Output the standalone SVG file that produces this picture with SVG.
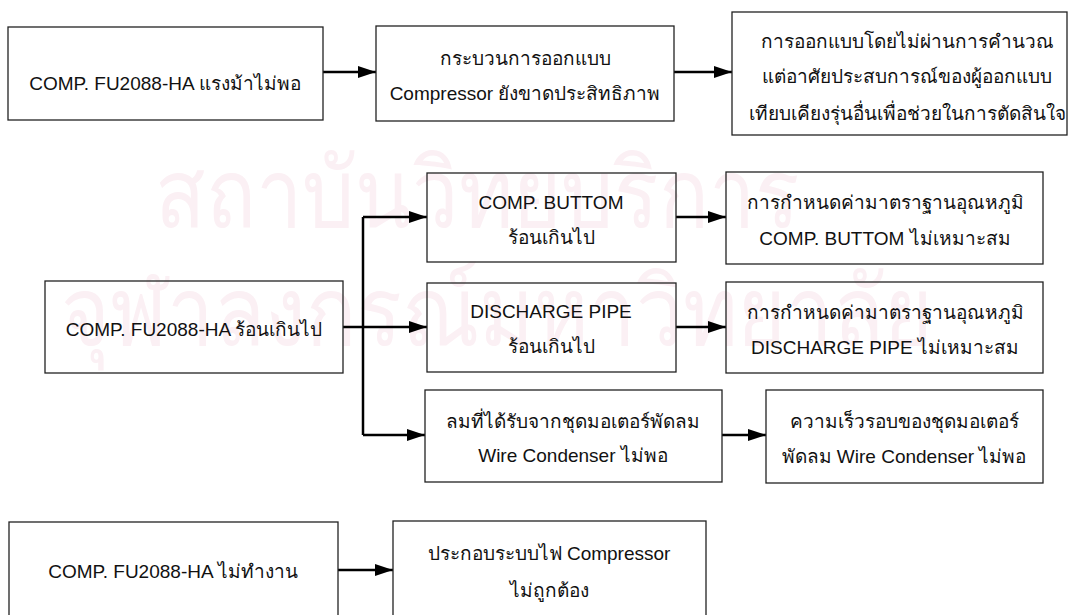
<svg xmlns="http://www.w3.org/2000/svg" width="1068" height="615" viewBox="0 0 1068 615">
<style>
.box{fill:none;stroke:#222;stroke-width:1.3}
.t{font-family:"Liberation Sans","Noto Sans","DejaVu Sans",sans-serif;font-size:19px;fill:#111;text-anchor:middle}
.wm{font-family:"Noto Sans","DejaVu Sans",sans-serif;font-size:96px;fill:#fbf0f4}
.c{fill:none;stroke:#000;stroke-width:2.5}
</style>
<defs>
<marker id="ah" viewBox="0 0 18 12" refX="18" refY="6" markerWidth="18" markerHeight="12" markerUnits="userSpaceOnUse" orient="auto">
<path d="M0,0 L18,6 L0,12 Z" fill="#000"/>
</marker>
</defs>
<rect width="1068" height="615" fill="#fff"/>
<g id="watermark">
<text class="wm" x="155" y="227" textLength="645" lengthAdjust="spacingAndGlyphs">สถาบันวิทยบริการ</text>
<text class="wm" x="61" y="345" textLength="872" lengthAdjust="spacingAndGlyphs">จุฬาลงกรณ์มหาวิทยาลัย</text>
</g>
<g id="connectors">
<path class="c" d="M323,72 H376" marker-end="url(#ah)"/>
<path class="c" d="M674,72 H732" marker-end="url(#ah)"/>
<path class="c" d="M343,327 H363"/>
<path class="c" d="M363,217 V435"/>
<path class="c" d="M363,217 H427" marker-end="url(#ah)"/>
<path class="c" d="M363,327 H427" marker-end="url(#ah)"/>
<path class="c" d="M363,435 H425" marker-end="url(#ah)"/>
<path class="c" d="M676,217 H726" marker-end="url(#ah)"/>
<path class="c" d="M676,327 H726" marker-end="url(#ah)"/>
<path class="c" d="M722,435 H766" marker-end="url(#ah)"/>
<path class="c" d="M338,570 H393" marker-end="url(#ah)"/>
</g>
<g id="n1"><rect class="box" x="8" y="27" width="315" height="93"/><text class="t" x="165" y="90">COMP. FU2088-HA แรงม้าไม่พอ</text></g>
<g id="n2"><rect class="box" x="376" y="26" width="298" height="95"/><text class="t" x="525" y="65">กระบวนการออกแบบ</text><text class="t" x="525" y="100">Compressor ยังขาดประสิทธิภาพ</text></g>
<g id="n3"><rect class="box" x="732" y="12" width="335" height="123"/><text class="t" x="907" y="48">การออกแบบโดยไม่ผ่านการคำนวณ</text><text class="t" x="907" y="83">แต่อาศัยประสบการณ์ของผู้ออกแบบ</text><text class="t" x="907" y="120">เทียบเคียงรุ่นอื่นเพื่อช่วยในการตัดสินใจ</text></g>
<g id="n4"><rect class="box" x="45" y="281" width="298" height="92"/><text class="t" x="194" y="336">COMP. FU2088-HA ร้อนเกินไป</text></g>
<g id="n5"><rect class="box" x="427" y="173" width="249" height="89"/><text class="t" x="551" y="209">COMP. BUTTOM</text><text class="t" x="551" y="244">ร้อนเกินไป</text></g>
<g id="n6"><rect class="box" x="726" y="172" width="317" height="92"/><text class="t" x="885" y="209">การกำหนดค่ามาตราฐานอุณหภูมิ</text><text class="t" x="885" y="245">COMP. BUTTOM ไม่เหมาะสม</text></g>
<g id="n7"><rect class="box" x="427" y="283" width="249" height="89"/><text class="t" x="551" y="318">DISCHARGE PIPE</text><text class="t" x="551" y="353">ร้อนเกินไป</text></g>
<g id="n8"><rect class="box" x="726" y="282" width="317" height="91"/><text class="t" x="885" y="319">การกำหนดค่ามาตราฐานอุณหภูมิ</text><text class="t" x="885" y="354">DISCHARGE PIPE ไม่เหมาะสม</text></g>
<g id="n9"><rect class="box" x="425" y="390" width="297" height="92"/><text class="t" x="573" y="428">ลมที่ได้รับจากชุดมอเตอร์พัดลม</text><text class="t" x="573" y="462">Wire Condenser ไม่พอ</text></g>
<g id="n10"><rect class="box" x="766" y="390" width="277" height="93"/><text class="t" x="904" y="428">ความเร็วรอบของชุดมอเตอร์</text><text class="t" x="904" y="463">พัดลม Wire Condenser ไม่พอ</text></g>
<g id="n11"><rect class="box" x="9" y="522" width="329" height="100"/><text class="t" x="173" y="578">COMP. FU2088-HA ไม่ทำงาน</text></g>
<g id="n12"><rect class="box" x="393" y="521" width="313" height="100"/><text class="t" x="549" y="560">ประกอบระบบไฟ Compressor</text><text class="t" x="549" y="597">ไม่ถูกต้อง</text></g>
</svg>
